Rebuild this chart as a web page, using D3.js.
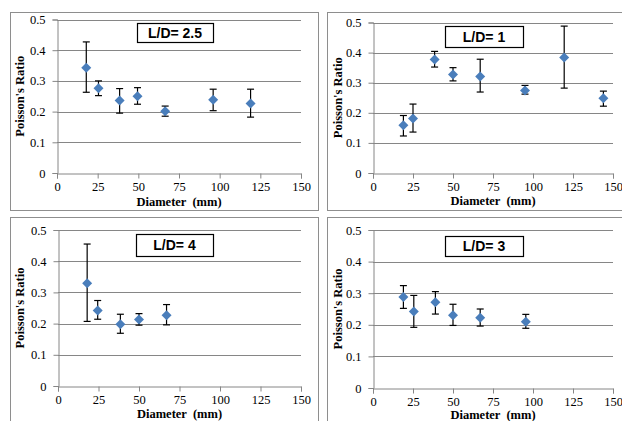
<!DOCTYPE html>
<html>
<head>
<meta charset="utf-8">
<script src="https://cdn.jsdelivr.net/npm/d3@7"></script>
<style>
  body { margin: 0; background: #ffffff; }
  svg { display: block; }
</style>
</head>
<body>
<div class="canvas"></div>
<script>
// diameters (mm), poisson's ratio, lower / upper error bar ends
var diam25 = [18, 25.5, 38.5, 49.5, 66.5, 96, 119];
var nu25   = [0.343, 0.276, 0.236, 0.250, 0.201, 0.239, 0.226];
var lo25   = [0.263, 0.252, 0.195, 0.224, 0.185, 0.203, 0.182];
var hi25   = [0.427, 0.300, 0.275, 0.278, 0.218, 0.273, 0.273];

var diam1 = [19, 25, 38.5, 50, 67, 95, 119.5, 144];
var nu1   = [0.159, 0.181, 0.377, 0.327, 0.321, 0.274, 0.384, 0.248];
var lo1   = [0.123, 0.136, 0.352, 0.306, 0.269, 0.262, 0.282, 0.222];
var hi1   = [0.191, 0.229, 0.404, 0.350, 0.378, 0.291, 0.488, 0.272];

var diam4 = [18, 24.5, 38.5, 50, 67];
var nu4   = [0.329, 0.242, 0.198, 0.213, 0.227];
var lo4   = [0.207, 0.214, 0.169, 0.195, 0.196];
var hi4   = [0.455, 0.274, 0.230, 0.232, 0.261];

var diam3 = [19, 25.5, 39, 50, 67, 95.5];
var nu3   = [0.288, 0.242, 0.271, 0.230, 0.222, 0.210];
var lo3   = [0.252, 0.192, 0.234, 0.198, 0.196, 0.189];
var hi3   = [0.324, 0.293, 0.305, 0.265, 0.250, 0.233];

var xTicks = [0, 25, 50, 75, 100, 125, 150];
var yTicks = [0, 0.1, 0.2, 0.3, 0.4, 0.5];
var titles = ["L/D= 2.5", "L/D= 1", "L/D= 4", "L/D= 3"];

var serif = "'Liberation Serif', 'Times New Roman', serif";

var svg = d3.select(".canvas")
	.append("svg")
	.attr("width", 622)
	.attr("height", 421);

svg.append("rect")
	.attr("width", 622)
	.attr("height", 421)
	.attr("fill", "white");

function drawPanel(p, title, dx, nu, lo, hi) {
	var g = svg.append("g");

	// chart frame
	g.append("rect")
		.attr("x", p.bx + 0.5)
		.attr("y", p.by + 0.5)
		.attr("width", p.bw)
		.attr("height", p.bh)
		.attr("fill", "white")
		.attr("stroke", "#8e8e8e")
		.attr("stroke-width", 1);

	var x = d3.scaleLinear().domain([0, 150]).range([p.x0, p.x1]);
	var y = d3.scaleLinear().domain([0, 0.5]).range([p.yb, p.yt]);

	// gridlines
	g.selectAll(".grid")
		.data(yTicks.slice(1))
		.enter().append("line")
		.attr("x1", p.x0)
		.attr("x2", p.x1)
		.attr("y1", function(d){ return Math.round(y(d)) + 0.5; })
		.attr("y2", function(d){ return Math.round(y(d)) + 0.5; })
		.attr("stroke", "#868686")
		.attr("stroke-width", 1);

	var xAxis = g.append("g")
		.attr("transform", "translate(0," + (Math.round(p.yb) + 0.5) + ")")
		.call(d3.axisBottom(x).tickValues(xTicks).tickSize(5).tickFormat(d3.format("d")));
	var yAxis = g.append("g")
		.attr("transform", "translate(" + (Math.round(p.x0) + 0.5) + ",0)")
		.call(d3.axisLeft(y).tickValues(yTicks).tickSize(5).tickFormat(function(d){ return d === 0 ? "0" : d3.format(".1f")(d); }));

	[xAxis, yAxis].forEach(function(a){
		a.select(".domain").attr("stroke", "#868686");
		a.selectAll(".tick line").attr("stroke", "#868686");
		a.selectAll("text")
			.attr("font-family", serif)
			.attr("font-size", "12.5px")
			.attr("fill", "black");
	});
	xAxis.selectAll("text").attr("y", 7).attr("dy", "0.85em");
	yAxis.selectAll("text").attr("x", -12);

	// axis titles
	g.append("text")
		.attr("x", (p.x0 + p.x1) / 2)
		.attr("y", p.xty)
		.attr("text-anchor", "middle")
		.attr("font-family", serif)
		.attr("font-weight", "bold")
		.attr("font-size", "12.5px")
		.attr("xml:space", "preserve")
		.text("Diameter  (mm)");

	g.append("text")
		.attr("transform", "translate(" + p.ytx + "," + ((p.yt + p.yb) / 2) + ") rotate(-90)")
		.attr("text-anchor", "middle")
		.attr("font-family", serif)
		.attr("font-weight", "bold")
		.attr("font-size", "12.5px")
		.text("Poisson's Ratio");

	// title box
	g.append("rect")
		.attr("x", p.tx + 0.5)
		.attr("y", p.ty + 0.5)
		.attr("width", p.tw)
		.attr("height", p.th)
		.attr("fill", "white")
		.attr("stroke", "black")
		.attr("stroke-width", 1.2);
	g.append("text")
		.attr("x", p.tx + p.tw / 2)
		.attr("y", p.ty + p.th / 2 + 5)
		.attr("text-anchor", "middle")
		.attr("font-family", "'Liberation Sans', Arial, sans-serif")
		.attr("font-weight", "bold")
		.attr("font-size", "14px")
		.attr("xml:space", "preserve")
		.text(title);

	var idx = d3.range(dx.length);

	// error bars
	g.selectAll(".err")
		.data(idx)
		.enter().append("line")
		.attr("x1", function(i){ return x(dx[i]); })
		.attr("x2", function(i){ return x(dx[i]); })
		.attr("y1", function(i){ return y(lo[i]); })
		.attr("y2", function(i){ return y(hi[i]); })
		.attr("stroke", "black")
		.attr("stroke-width", 1.2);
	[lo, hi].forEach(function(arr){
		g.selectAll(null)
			.data(idx)
			.enter().append("line")
			.attr("x1", function(i){ return x(dx[i]) - 3.5; })
			.attr("x2", function(i){ return x(dx[i]) + 3.5; })
			.attr("y1", function(i){ return y(arr[i]); })
			.attr("y2", function(i){ return y(arr[i]); })
			.attr("stroke", "black")
			.attr("stroke-width", 1.2);
	});

	// diamond markers
	g.selectAll(".pt")
		.data(idx)
		.enter().append("path")
		.attr("d", d3.symbol().type(d3.symbolSquare).size(50))
		.attr("transform", function(i){ return "translate(" + x(dx[i]) + "," + y(nu[i]) + ") rotate(45)"; })
		.attr("fill", "#4a7ebb");
}

drawPanel({bx: 10, by: 12, bw: 308, bh: 198, x0: 57, x1: 301, yt: 19.5, yb: 173, xty: 206, ytx: 24, tx: 137, ty: 23, tw: 76, th: 19}, titles[0], diam25, nu25, lo25, hi25);
drawPanel({bx: 327, by: 12, bw: 300, bh: 198, x0: 373, x1: 613, yt: 22.5, yb: 173, xty: 205, ytx: 342, tx: 445, ty: 26, tw: 78, th: 21}, titles[1], diam1, nu1, lo1, hi1);
drawPanel({bx: 10, by: 217, bw: 308, bh: 220, x0: 58, x1: 301, yt: 230, yb: 386, xty: 418, ytx: 24, tx: 136, ty: 234, tw: 77, th: 22}, titles[2], diam4, nu4, lo4, hi4);
drawPanel({bx: 327, by: 217, bw: 300, bh: 220, x0: 373, x1: 613, yt: 230, yb: 388, xty: 419, ytx: 342, tx: 445, ty: 236, tw: 78, th: 20}, titles[3], diam3, nu3, lo3, hi3);
</script>
</body>
</html>
